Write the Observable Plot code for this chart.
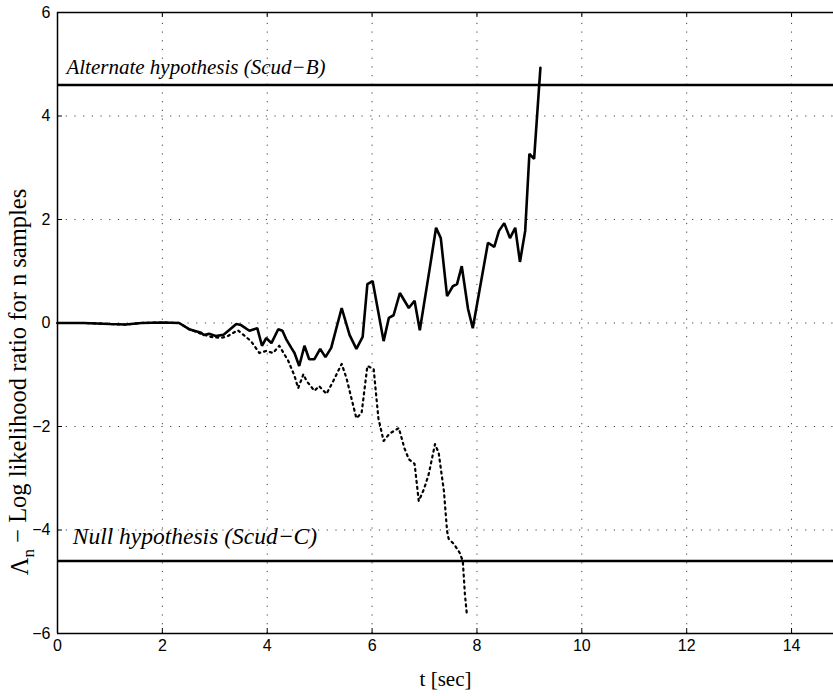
<!DOCTYPE html>
<html>
<head>
<meta charset="utf-8">
<script src="https://cdn.jsdelivr.net/npm/d3@7"></script>
<script src="https://cdn.jsdelivr.net/npm/@observablehq/plot@0.6"></script>
<style>
  html, body { margin: 0; padding: 0; background: #fff; }
</style>
</head>
<body>
<div id="chart"></div>
<script>
// Solid curve: log-likelihood ratio (t in sec, value)
const solidT = [0, 0.5, 1.0, 1.3, 1.6, 2.0, 2.32, 2.51, 2.74, 2.79, 2.89, 3.02, 3.16, 3.27, 3.41, 3.50, 3.66, 3.81, 3.90, 3.98, 4.08, 4.21, 4.29, 4.36, 4.46, 4.52, 4.61, 4.71, 4.80, 4.90, 5.01, 5.11, 5.22, 5.42, 5.57, 5.70, 5.82, 5.91, 6.01, 6.22, 6.32, 6.41, 6.53, 6.70, 6.81, 6.91, 7.10, 7.22, 7.31, 7.43, 7.54, 7.62, 7.71, 7.83, 7.92, 8.21, 8.33, 8.42, 8.52, 8.63, 8.73, 8.82, 8.92, 9.00, 9.09, 9.21];
const solidV = [0, 0, -0.02, -0.03, 0.0, 0.01, 0.0, -0.12, -0.19, -0.23, -0.21, -0.25, -0.23, -0.14, -0.02, -0.04, -0.15, -0.10, -0.44, -0.29, -0.39, -0.12, -0.15, -0.31, -0.48, -0.58, -0.83, -0.44, -0.70, -0.70, -0.50, -0.66, -0.48, 0.29, -0.23, -0.50, -0.27, 0.75, 0.81, -0.35, 0.10, 0.15, 0.58, 0.29, 0.43, -0.14, 1.06, 1.84, 1.64, 0.52, 0.71, 0.75, 1.10, 0.27, -0.10, 1.55, 1.47, 1.78, 1.93, 1.64, 1.84, 1.18, 1.78, 3.27, 3.17, 4.93];

// Dotted curve
const dottedT = [0, 0.5, 1.0, 1.3, 1.6, 2.0, 2.32, 2.51, 2.74, 2.93, 3.12, 3.25, 3.44, 3.69, 3.85, 3.98, 4.11, 4.23, 4.40, 4.52, 4.59, 4.69, 4.75, 4.90, 4.99, 5.13, 5.26, 5.42, 5.51, 5.61, 5.70, 5.80, 5.91, 6.03, 6.12, 6.22, 6.33, 6.51, 6.62, 6.70, 6.81, 6.89, 6.99, 7.08, 7.20, 7.27, 7.37, 7.43, 7.46, 7.56, 7.67, 7.73, 7.77, 7.81];
const dottedV = [0, 0, -0.02, -0.03, 0.0, 0.01, 0.0, -0.12, -0.21, -0.27, -0.29, -0.25, -0.14, -0.35, -0.58, -0.54, -0.58, -0.44, -0.73, -1.02, -1.26, -0.99, -1.12, -1.31, -1.22, -1.37, -1.12, -0.79, -1.06, -1.47, -1.84, -1.74, -0.83, -0.89, -1.84, -2.28, -2.14, -2.03, -2.43, -2.63, -2.72, -3.44, -3.21, -2.92, -2.34, -2.51, -3.25, -4.02, -4.17, -4.27, -4.44, -4.60, -5.24, -5.66];

// Thresholds
const thresholds = [4.6, -4.6];
const thresholdLabels = ["Alternate hypothesis (Scud\u2212B)", "Null hypothesis (Scud\u2212C)"];
const labelX = [0.17, 0.29];
const labelY = [4.95, -4.12];

const xTicks = [0, 2, 4, 6, 8, 10, 12, 14];
const yTicks = [-6, -4, -2, 0, 2, 4, 6];

const solid = solidT.map((t, i) => ({t, v: solidV[i]}));
const dotted = dottedT.map((t, i) => ({t, v: dottedV[i]}));
const labels = thresholdLabels.map((s, i) => ({s, x: labelX[i], y: labelY[i], fs: i === 0 ? 21 : 23.5}));

const tickLenX = 5 / 51.75;  // in y units
const tickLenY = 5 / 52.43;  // in x units
const serif = "'Liberation Serif', 'Times New Roman', serif";
const fmt = d => (d < 0 ? "\u2212" : "") + Math.abs(d);

const chart = Plot.plot({
  width: 833,
  height: 696,
  marginLeft: 57,
  marginRight: 0,
  marginTop: 12,
  marginBottom: 63,
  style: {fontFamily: "'Liberation Sans', Arial, sans-serif", fontSize: "16px", background: "#fff", color: "#000"},
  x: {domain: [0, 14.8], ticks: xTicks},
  y: {domain: [-6, 6], ticks: yTicks},
  marks: [
    // dotted grid
    Plot.ruleX(xTicks.filter(d => d > 0), {y1: -6, y2: 6, stroke: "#000", strokeWidth: 1, strokeDasharray: "1.2,7.5", strokeOpacity: 0.75}),
    Plot.ruleY(yTicks.filter(d => d > -6 && d < 6), {stroke: "#000", strokeWidth: 1, strokeDasharray: "1.2,7.5", strokeOpacity: 0.75}),
    // inward ticks
    Plot.ruleX(xTicks, {y1: -6, y2: -6 + tickLenX, stroke: "#000", strokeWidth: 1}),
    Plot.ruleX(xTicks, {y1: 6, y2: 6 - tickLenX, stroke: "#000", strokeWidth: 1}),
    Plot.ruleY(yTicks, {x1: 0, x2: tickLenY, stroke: "#000", strokeWidth: 1}),
    // frame (top, bottom, left)
    Plot.ruleY([-6, 6], {stroke: "#000", strokeWidth: 1.5}),
    Plot.ruleX([0], {stroke: "#000", strokeWidth: 1.5}),
    // thresholds
    Plot.ruleY(thresholds, {stroke: "#000", strokeWidth: 2.6}),
    // curves
    Plot.line(dotted, {x: "t", y: "v", stroke: "#000", strokeWidth: 2.2, strokeDasharray: "2,4", curve: "linear"}),
    Plot.line(solid, {x: "t", y: "v", stroke: "#000", strokeWidth: 2.6, strokeLinejoin: "miter", curve: "linear"}),
    // annotations
    Plot.text(labels, {x: "x", y: "y", text: "s", textAnchor: "start", fontStyle: "italic", fontFamily: serif, fontSize: "fs", fill: "#000"}),
    // axes
    Plot.axisX(xTicks, {tickSize: 0, tickPadding: 6, fontSize: 16, label: null, tickFormat: fmt}),
    Plot.axisY(yTicks, {tickSize: 0, tickPadding: 7, fontSize: 16, label: null, tickFormat: fmt}),
    // axis titles
    Plot.text(["XLABEL"], {frameAnchor: "bottom", x: 7.4, dy: 52, fontSize: 21, fill: "#000", fontFamily: serif}),
    Plot.text(["YLABEL"], {frameAnchor: "left", y: -1.14, dx: -37, rotate: -90, textAnchor: "middle", fontSize: 24.5, fill: "#000", fontFamily: serif})
  ]
});

const sel = name => d3.select(chart).selectAll("text").filter(function() { return this.textContent === name; });
sel("XLABEL").style("font-family", serif).text("t [sec]");
sel("YLABEL").style("font-family", serif)
  .each(function() {
    const t = d3.select(this);
    t.text(null);
    t.append("tspan").text("\u039B");
    t.append("tspan").attr("dy", "0.35em").attr("font-size", "17").text("n");
    t.append("tspan").attr("dy", "-0.35em").text(" \u2212 Log likelihood ratio for n samples");
  });

document.getElementById("chart").appendChild(chart);
</script>
</body>
</html>
